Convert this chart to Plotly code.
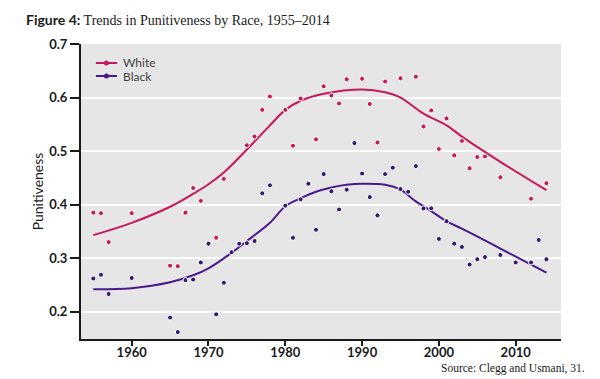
import plotly.graph_objects as go

# ---- data ----
white_years = [1955, 1956, 1957, 1960, 1965, 1966, 1967, 1968, 1969, 1971, 1972, 1975, 1976,
               1977, 1978, 1980, 1981, 1982, 1984, 1985, 1986, 1987, 1988, 1990, 1991, 1992,
               1993, 1995, 1997, 1998, 1999, 2000, 2001, 2002, 2003, 2004, 2005, 2006, 2008,
               2012, 2014]
white_vals = [0.385, 0.384, 0.330, 0.384, 0.286, 0.285, 0.385, 0.431, 0.407, 0.338, 0.448, 0.511, 0.527,
              0.577, 0.602, 0.577, 0.510, 0.598, 0.522, 0.621, 0.604, 0.589, 0.634, 0.635, 0.588, 0.516,
              0.630, 0.636, 0.639, 0.546, 0.576, 0.504, 0.561, 0.492, 0.519, 0.468, 0.489, 0.490, 0.451,
              0.411, 0.440]

black_years = [1955, 1956, 1957, 1960, 1965, 1966, 1967, 1968, 1969, 1970, 1971, 1972, 1973,
               1974, 1975, 1976, 1977, 1978, 1980, 1981, 1982, 1983, 1984, 1985, 1986, 1987,
               1988, 1989, 1990, 1991, 1992, 1993, 1994, 1995, 1996, 1997, 1998, 1999, 2000,
               2001, 2002, 2003, 2004, 2005, 2006, 2008, 2010, 2012, 2013, 2014]
black_vals = [0.262, 0.269, 0.233, 0.263, 0.189, 0.162, 0.259, 0.260, 0.292, 0.327, 0.195, 0.254, 0.311,
              0.327, 0.328, 0.332, 0.421, 0.436, 0.398, 0.338, 0.410, 0.439, 0.353, 0.457, 0.425, 0.391,
              0.428, 0.515, 0.458, 0.414, 0.380, 0.457, 0.469, 0.429, 0.424, 0.472, 0.393, 0.393, 0.336,
              0.369, 0.327, 0.321, 0.288, 0.298, 0.302, 0.306, 0.292, 0.292, 0.334, 0.298]

white_trend_years = [1955, 1960, 1965, 1968, 1970, 1972, 1975, 1978, 1980, 1982, 1985, 1990,
                     1993, 1995, 1998, 2001, 2003, 2008, 2014]
white_trend_vals = [0.343, 0.366, 0.396, 0.420, 0.438, 0.460, 0.503, 0.548, 0.577, 0.594, 0.607, 0.615,
                    0.610, 0.600, 0.570, 0.548, 0.527, 0.480, 0.427]

black_trend_years = [1955, 1960, 1965, 1968, 1970, 1973, 1975, 1978, 1980, 1982, 1984, 1986, 1988,
                     1990, 1993, 1995, 1997, 1999, 2001, 2003, 2008, 2014]
black_trend_vals = [0.242, 0.244, 0.255, 0.268, 0.281, 0.310, 0.332, 0.366, 0.397, 0.412, 0.424, 0.432, 0.437,
                    0.439, 0.437, 0.428, 0.406, 0.388, 0.369, 0.355, 0.318, 0.273]

series_names = ["White", "Black"]
y_ticks = [0.2, 0.3, 0.4, 0.5, 0.6, 0.7]
y_tick_labels = ["0.2", "0.3", "0.4", "0.5", "0.6", "0.7"]
x_ticks = [1960, 1970, 1980, 1990, 2000, 2010]

WHITE_C = "#c8175a"
BLACK_C = "#4a1a8c"
BLACK_PT = "#33186e"
SANS = "Lato"
SERIF = "Liberation Serif"

fig = go.Figure()

# trend lines
fig.add_trace(go.Scatter(x=white_trend_years, y=white_trend_vals, mode="lines",
                         line=dict(color=WHITE_C, width=2, shape="spline", smoothing=1.0),
                         showlegend=False, hoverinfo="skip"))
fig.add_trace(go.Scatter(x=black_trend_years, y=black_trend_vals, mode="lines",
                         line=dict(color=BLACK_C, width=2, shape="spline", smoothing=1.0),
                         showlegend=False, hoverinfo="skip"))
# points
fig.add_trace(go.Scatter(x=white_years, y=white_vals, mode="markers", name=series_names[0],
                         marker=dict(color=WHITE_C, size=5, line=dict(color="white", width=1)),
                         showlegend=False))
fig.add_trace(go.Scatter(x=black_years, y=black_vals, mode="markers", name=series_names[1],
                         marker=dict(color=BLACK_PT, size=5, line=dict(color="white", width=1)),
                         showlegend=False))

# compact legend (plotly's own legend rows are too tall)
shapes = []
annotations = []
for name, col, ly in zip(series_names, [WHITE_C, BLACK_C], [0.9356, 0.8915]):
    shapes.append(dict(type="line", xref="paper", yref="paper", x0=0.031, x1=0.075, y0=ly, y1=ly,
                       line=dict(color=col, width=2)))
    shapes.append(dict(type="circle", xref="paper", yref="paper", xsizemode="pixel", ysizemode="pixel",
                       xanchor=0.053, yanchor=ly, x0=-2.5, x1=2.5, y0=-2.5, y1=2.5,
                       fillcolor=col, line=dict(color=col, width=0)))
    annotations.append(dict(text=name, xref="paper", yref="paper", x=0.083, y=ly,
                            xanchor="left", yanchor="middle", showarrow=False,
                            font=dict(family=SANS, size=12, color="#444444")))

annotations.append(dict(text="Source: Clegg and Usmani, 31.", xref="paper", yref="paper",
                        x=1.055, y=-0.1, xanchor="right", yanchor="middle", showarrow=False,
                        font=dict(family=SERIF, size=11.5, color="#1a1a1a")))

# page body has an 8px margin, so the figure is sized/offset to compensate
fig.update_layout(
    width=592, height=371,
    margin=dict(l=73, r=39, t=36, b=40),
    paper_bgcolor="white",
    plot_bgcolor="#e6e6e6",
    showlegend=False,
    title=dict(
        text='<span style="font-family:Lato;font-weight:bold;font-size:14px">Figure 4:</span> Trends in Punitiveness by Race, 1955–2014',
        font=dict(family=SERIF, size=14, color="#1a1a1a"),
        xref="container", x=0.0304, xanchor="left",
        yref="container", y=0.9677, yanchor="middle"),
    xaxis=dict(range=[1953.4, 2015.9], tickvals=x_ticks, showgrid=False, zeroline=False,
               showline=True, linecolor="#1a1a1a", linewidth=2,
               ticks="outside", ticklen=5, tickwidth=2, tickcolor="#1a1a1a",
               ticklabelstandoff=-5,
               tickfont=dict(family=SANS, size=13, color="#1a1a1a", weight="bold")),
    yaxis=dict(range=[0.149, 0.7], tickvals=y_ticks, ticktext=y_tick_labels,
               showgrid=True, gridcolor="white", gridwidth=2, zeroline=False,
               showline=True, linecolor="#1a1a1a", linewidth=2,
               ticks="outside", ticklen=9, tickwidth=2, tickcolor="#1a1a1a",
               tickfont=dict(family=SANS, size=13, color="#1a1a1a", weight="bold"),
               title=dict(text="Punitiveness", standoff=2,
                          font=dict(family=SANS, size=14, color="#1a1a1a"))),
    shapes=shapes,
    annotations=annotations,
)

fig.write_html("out.html")
